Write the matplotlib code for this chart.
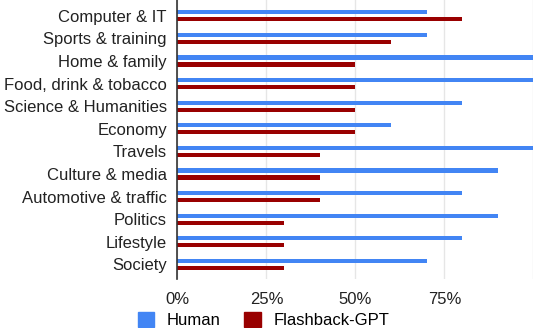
import numpy as np
import matplotlib
matplotlib.use("Agg")
import matplotlib.pyplot as plt
from matplotlib.patches import Patch

plt.rcParams['font.family'] = ['Liberation Sans', 'DejaVu Sans']

categories = ["Computer & IT", "Sports & training", "Home & family",
              "Food, drink & tobacco", "Science & Humanities", "Economy",
              "Travels", "Culture & media", "Automotive & traffic",
              "Politics", "Lifestyle", "Society"]
human = [70, 70, 100, 100, 80, 60, 100, 90, 80, 90, 80, 70]
flashback_gpt = [80, 60, 50, 50, 50, 50, 40, 40, 40, 30, 30, 30]
x_ticks = [0, 25, 50, 75, 100]
x_labels = ["0%", "25%", "50%", "75%", ""]

blue = "#4285F4"
red = "#990000"

fig = plt.figure(figsize=(5.36, 3.28), dpi=100)
ax = fig.add_axes([0.331, 0.149, 0.664, 0.851])

y = np.arange(len(categories))
off = 0.155
h = 0.19
ax.barh(y - off, human, height=h, color=blue, zorder=3)
ax.barh(y + off, flashback_gpt, height=h, color=red, zorder=3)

ax.set_xlim(0, 100)
ax.set_ylim(11.65, -0.70)
ax.set_yticks(y)
ax.set_yticklabels(categories, fontsize=12, color="#222222")
ax.set_xticks(x_ticks)
ax.set_xticklabels(x_labels, fontsize=12, color="#222222")
ax.tick_params(axis="y", length=0, pad=7.5)
ax.tick_params(axis="x", length=0, pad=9)
ax.grid(axis="x", color="#e6e6e6", linewidth=1, zorder=0)
for s in ["top", "right", "bottom"]:
    ax.spines[s].set_visible(False)
ax.spines["left"].set_color("#333333")
ax.spines["left"].set_linewidth(1.2)
ax.spines["left"].set_zorder(4)

handles = [Patch(color=blue, label="Human"), Patch(color=red, label="Flashback-GPT")]
fig.legend(handles=handles, loc="center left", bbox_to_anchor=(0.257, 0.024),
           ncol=2, frameon=False, fontsize=12, handlelength=1.0, handleheight=1.0,
           handletextpad=0.75, columnspacing=1.4, borderpad=0, borderaxespad=0)

fig.savefig("out.png", dpi=100)
